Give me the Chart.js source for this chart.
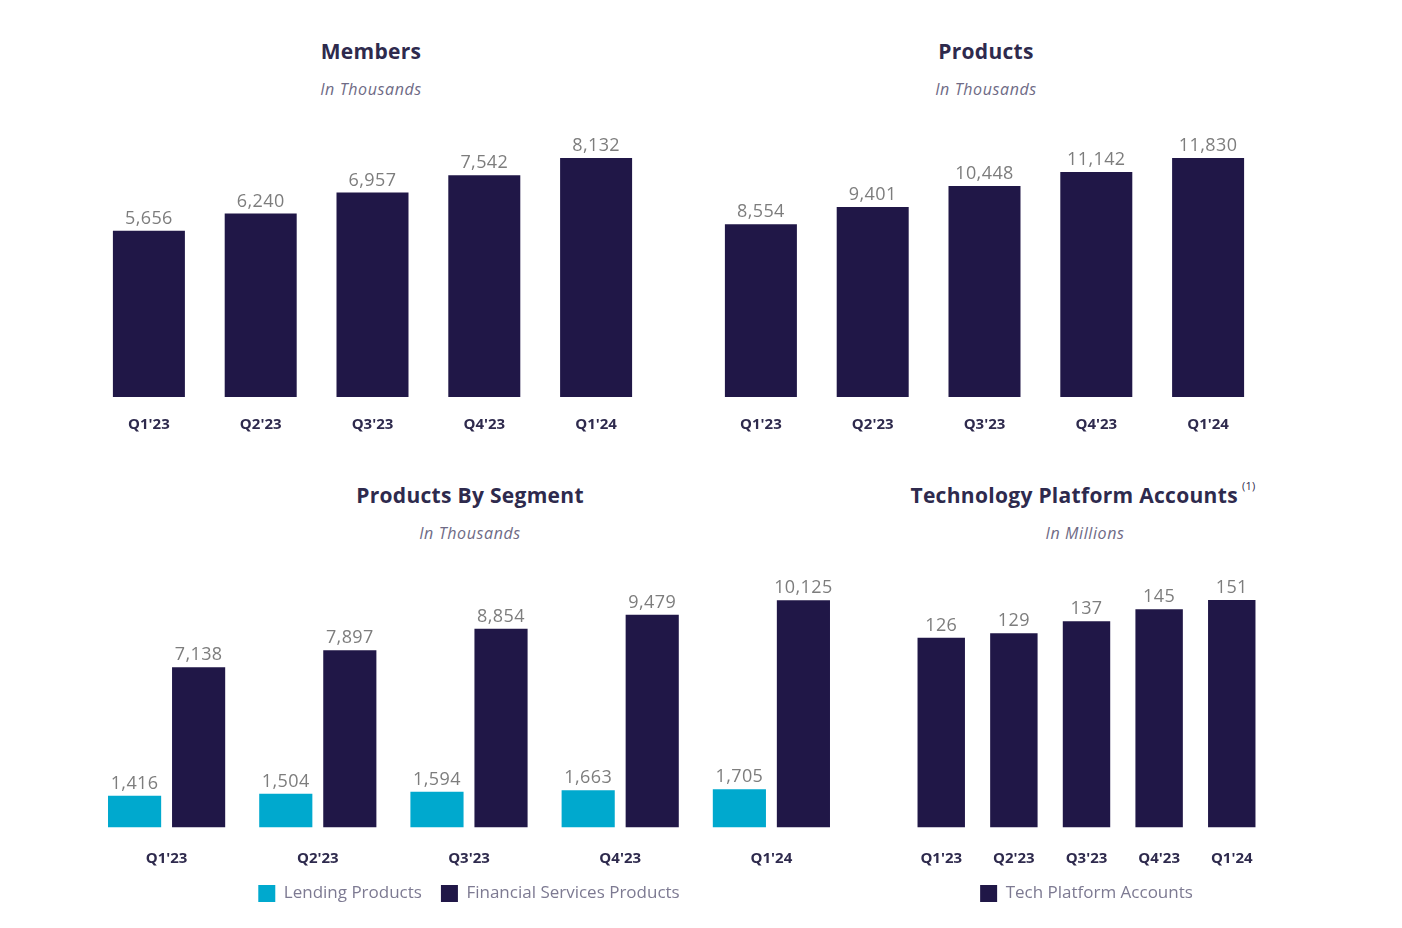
<!DOCTYPE html>
<html><head><meta charset="utf-8">
<script src="https://cdn.jsdelivr.net/npm/chart.js@4"></script>
<style>
html,body{margin:0;padding:0;background:#fff;}
body{width:1402px;height:928px;position:relative;overflow:hidden;font-family:"Open Sans",sans-serif;}
.t{position:absolute;transform:translateX(-50%);white-space:nowrap;color:#2e2a4d;font-weight:700;font-size:21px;letter-spacing:0.3px;}
.s{position:absolute;transform:translateX(-50%);white-space:nowrap;color:#6e6a85;font-style:italic;font-size:16px;letter-spacing:0.6px;}
.c{position:absolute;}
sup{font-size:11px;font-weight:400;position:relative;top:-5px;margin-left:4px;}
</style></head><body>
<div class="t" style="left:371px;top:37px">Members</div>
<div class="s" style="left:371px;top:78px">In Thousands</div>
<div class="t" style="left:986px;top:37px">Products</div>
<div class="s" style="left:986px;top:78px">In Thousands</div>
<div class="t" style="left:470px;top:481px">Products By Segment</div>
<div class="s" style="left:470px;top:522px">In Thousands</div>
<div class="t" style="left:1083px;top:481px">Technology Platform Accounts<sup>(1)</sup></div>
<div class="s" style="left:1085px;top:522px">In Millions</div>

<div class="c" style="left:93px;top:130px;width:559px;height:307px"><canvas id="c1"></canvas></div>
<div class="c" style="left:705px;top:130px;width:559px;height:307px"><canvas id="c2"></canvas></div>
<div class="c" style="left:91px;top:570px;width:756px;height:342px"><canvas id="c3"></canvas></div>
<div class="c" style="left:899px;top:570px;width:375px;height:342px"><canvas id="c4"></canvas></div>

<script>
const quarters = ["Q1'23","Q2'23","Q3'23","Q4'23","Q1'24"];
const members = [5656, 6240, 6957, 7542, 8132];
const products = [8554, 9401, 10448, 11142, 11830];
const lendingProducts = [1416, 1504, 1594, 1663, 1705];
const financialServicesProducts = [7138, 7897, 8854, 9479, 10125];
const techPlatformAccounts = [126, 129, 137, 145, 151];

const DARK = '#201747';
const CYAN = '#00a9ce';
const FONT = '"Open Sans", sans-serif';

const valueLabels = {
  id: 'valueLabels',
  afterDatasetsDraw(chart) {
    const ctx = chart.ctx;
    ctx.save();
    ctx.font = '18px ' + FONT;
    try { ctx.letterSpacing = '0.4px'; } catch (e) {}
    ctx.fillStyle = '#7d7d7d';
    ctx.textAlign = 'center';
    ctx.textBaseline = 'bottom';
    chart.data.datasets.forEach((ds, i) => {
      const meta = chart.getDatasetMeta(i);
      meta.data.forEach((el, j) => {
        ctx.fillText(ds.data[j].toLocaleString('en-US'), el.x, el.y - 3);
      });
    });
    ctx.restore();
  }
};

function makeChart(id, datasets, yMax, opts) {
  return new Chart(document.getElementById(id), {
    type: 'bar',
    data: { labels: quarters, datasets },
    options: {
      responsive: true, maintainAspectRatio: false, animation: false,
      layout: { padding: 0 },
      plugins: {
        legend: opts.legend ? {
          display: true, position: 'bottom',
          labels: { boxWidth: 17, boxHeight: 17, padding: 19, color: '#7d7a92', font: { family: FONT, size: 17 } }
        } : { display: false },
        tooltip: { enabled: false }
      },
      scales: {
        x: {
          grid: { display: false, drawTicks: false }, border: { display: false },
          ticks: { color: '#2e2a4d', padding: opts.tickPad, font: { family: FONT, size: 15, weight: 'bold' } },
          afterFit: (scale) => { scale.height = opts.axisH; }
        },
        y: { display: false, min: 0, max: yMax }
      }
    },
    plugins: [valueLabels]
  });
}

makeChart('c1', [{ label: 'Members', data: members, backgroundColor: DARK, categoryPercentage: 1, barPercentage: 0.644 }], 9084, { tickPad: 19, axisH: 40 });
makeChart('c2', [{ label: 'Products', data: products, backgroundColor: DARK, categoryPercentage: 1, barPercentage: 0.644 }], 13216, { tickPad: 19, axisH: 40 });
makeChart('c3', [
  { label: 'Lending Products', data: lendingProducts, backgroundColor: CYAN, categoryPercentage: 0.847, barPercentage: 0.83 },
  { label: 'Financial Services Products', data: financialServicesProducts, backgroundColor: DARK, categoryPercentage: 0.847, barPercentage: 0.83 }
], 11469, { tickPad: 22, axisH: 38.5, legend: true });
makeChart('c4', [{ label: 'Tech Platform Accounts', data: techPlatformAccounts, backgroundColor: DARK, categoryPercentage: 1, barPercentage: 0.653 }], 171, { tickPad: 22, axisH: 38.5, legend: true });
</script>
</body></html>
